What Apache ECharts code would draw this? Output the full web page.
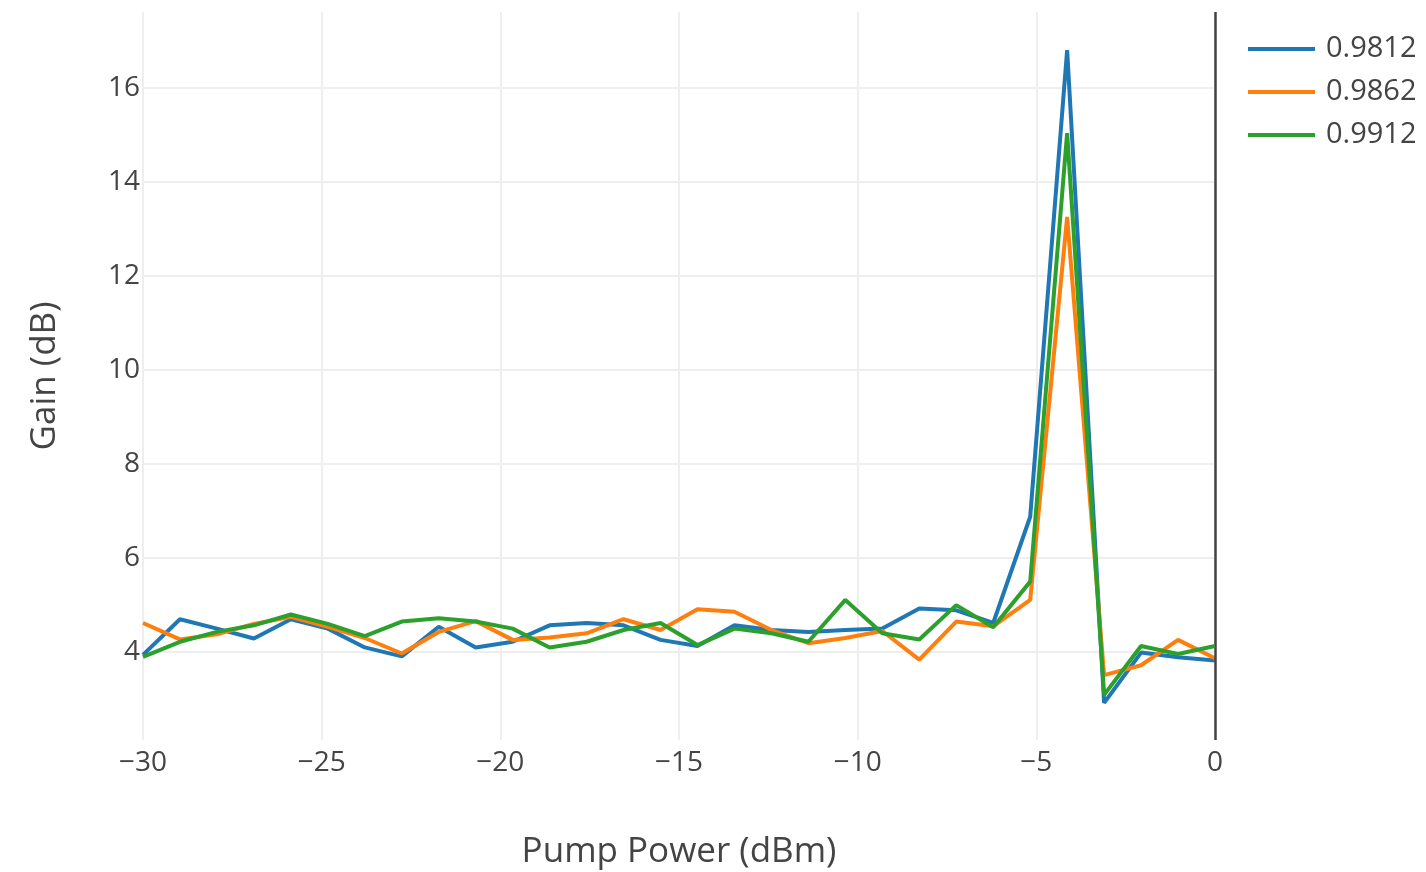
<!DOCTYPE html>
<html>
<head>
<meta charset="utf-8">
<script src="https://cdn.jsdelivr.net/npm/echarts@6/dist/echarts.min.js"></script>
<style>
html,body{margin:0;padding:0;background:#fff;}
#chart{width:1426px;height:872px;}
</style>
</head>
<body>
<div id="chart"></div>
<script>
// Pump power (dBm): 30 evenly spaced samples from -30 to 0
const pumpPower = [-30, -28.966, -27.931, -26.897, -25.862, -24.828, -23.793, -22.759, -21.724, -20.690,
  -19.655, -18.621, -17.586, -16.552, -15.517, -14.483, -13.448, -12.414, -11.379, -10.345,
  -9.310, -8.276, -7.241, -6.207, -5.172, -4.138, -3.103, -2.069, -1.034, 0];
const seriesNames = ['0.9812', '0.9862', '0.9912'];
const gain9812 = [3.94, 4.70, 4.50, 4.29, 4.70, 4.50, 4.10, 3.91, 4.54, 4.10,
  4.22, 4.57, 4.62, 4.57, 4.26, 4.13, 4.57, 4.47, 4.43, 4.47,
  4.50, 4.93, 4.89, 4.62, 6.88, 16.81, 2.92, 3.99, 3.89, 3.82];
const gain9862 = [4.62, 4.27, 4.38, 4.60, 4.75, 4.54, 4.30, 3.97, 4.43, 4.66,
  4.26, 4.31, 4.40, 4.70, 4.47, 4.91, 4.86, 4.47, 4.19, 4.30,
  4.45, 3.84, 4.65, 4.55, 5.11, 13.26, 3.51, 3.72, 4.26, 3.87];
const gain9912 = [3.90, 4.22, 4.43, 4.57, 4.80, 4.60, 4.34, 4.65, 4.72, 4.65,
  4.50, 4.10, 4.22, 4.47, 4.62, 4.15, 4.50, 4.40, 4.22, 5.11,
  4.40, 4.27, 5.00, 4.53, 5.50, 15.04, 3.09, 4.13, 3.96, 4.13];
const colors = ['#1f77b4', '#ff7f0e', '#2ca02c'];
const xTicks = [-30, -25, -20, -15, -10, -5, 0];
const yTicks = [4, 6, 8, 10, 12, 14, 16];

const allGains = [gain9812, gain9862, gain9912];
const font = '"Open Sans", "DejaVu Sans", sans-serif';

const chart = echarts.init(document.getElementById('chart'));
const series = allGains.map((g, k) => ({
  name: seriesNames[k],
  type: 'line',
  data: pumpPower.map((x, i) => [x, g[i]]),
  showSymbol: false,
  symbol: 'none',
  lineStyle: { color: colors[k], width: 4 },
  itemStyle: { color: colors[k] },
  z: 3 + k,
  animation: false,
  markLine: k === 0 ? {
    silent: true,
    symbol: 'none',
    label: { show: false },
    lineStyle: { color: '#444', width: 2.5, type: 'solid' },
    data: [{ xAxis: 0 }],
    animation: false
  } : undefined
}));

chart.setOption({
  animation: false,
  backgroundColor: '#fff',
  color: colors,
  grid: { left: 143, right: 211, top: 12, bottom: 132, containLabel: false, outerBoundsMode: 'none' },
  legend: {
    orient: 'vertical',
    left: 1248,
    top: 32,
    padding: 0,
    icon: 'rect',
    itemWidth: 67,
    itemHeight: 4,
    itemGap: 9,
    textStyle: { fontFamily: font, fontSize: 29, color: '#444', lineHeight: 34, padding: [0, 0, 0, 6] },
    data: seriesNames
  },
  xAxis: {
    type: 'value',
    min: -30,
    max: 0,
    interval: 5,
    name: 'Pump Power (dBm)',
    nameLocation: 'middle',
    nameGap: 95,
    nameTextStyle: { fontFamily: font, fontSize: 35, color: '#444' },
    axisLine: { show: false },
    axisTick: { show: false },
    axisLabel: {
      fontFamily: font, fontSize: 28, color: '#444', margin: 9,
      formatter: v => xTicks.includes(v) ? String(v).replace('-', '\u2212') : ''
    },
    splitLine: { show: true, lineStyle: { color: '#eee', width: 2 } }
  },
  yAxis: {
    type: 'value',
    min: 2.13,
    max: 17.62,
    splitNumber: 8,
    name: 'Gain (dB)',
    nameLocation: 'middle',
    nameGap: 80,
    nameTextStyle: { fontFamily: font, fontSize: 35, color: '#444' },
    axisLine: { show: false },
    axisTick: { show: false },
    axisLabel: {
      fontFamily: font, fontSize: 28, color: '#444', margin: 3,
      showMinLabel: false, showMaxLabel: false,
      formatter: v => yTicks.includes(v) ? String(v) : ''
    },
    splitLine: { show: true, showMinLine: false, showMaxLine: false, lineStyle: { color: '#eee', width: 2 } }
  },
  series: series
});
</script>
</body>
</html>
